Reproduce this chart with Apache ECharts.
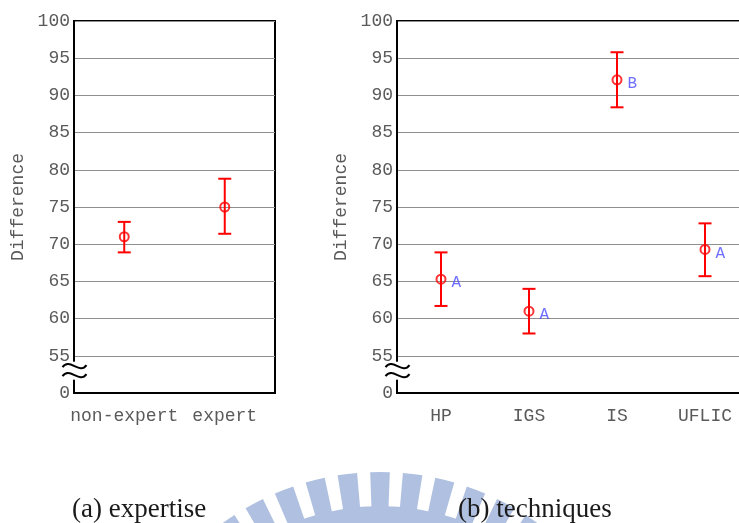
<!DOCTYPE html>
<html>
<head>
<meta charset="utf-8">
<script src="https://cdn.jsdelivr.net/npm/echarts@6/dist/echarts.min.js"></script>
<style>
  html, body { margin: 0; padding: 0; background: #ffffff; }
  #chart { width: 739px; height: 523px; }
</style>
</head>
<body>
<div id="chart"></div>
<script>
// ---- data -------------------------------------------------------------
const expertiseCategories = ['non-expert', 'expert'];
const expertiseMean = [71.0, 75.0];
const expertiseLow  = [68.9, 71.4];
const expertiseHigh = [73.0, 78.8];

const techniqueCategories = ['HP', 'IGS', 'IS', 'UFLIC'];
const techniqueMean = [65.3, 61.0, 92.1, 69.3];
const techniqueLow  = [61.7, 58.0, 88.4, 65.7];
const techniqueHigh = [68.9, 64.0, 95.8, 72.8];
const techniqueGroups = ['A', 'A', 'B', 'A'];

// value axis runs 50..100; its bottom tick stands for the broken-off zero
const yMin = 50, yMax = 100, yStep = 5;
const yBottomLabel = '0';
const yBreakValue = 53;
const yAxisTitle = 'Difference';
const captions = ['(a) expertise', '(b) techniques'];

// ---- layout & style ----------------------------------------------------
const MONO = '"Liberation Mono", "Courier New", monospace';
const SERIF = '"Liberation Serif", "DejaVu Serif", serif';
const RED = '#ff0000';
const LABEL_GRAY = '#5a5a5a';
const panels = [
  { left: 74,  top: 21, width: 201, height: 372 },
  { left: 397, top: 21, width: 352, height: 372 }
];

const chart = echarts.init(document.getElementById('chart'), null, { renderer: 'canvas' });

function renderErrorBar(params, api) {
  const idx = api.value(0);
  const lo = api.coord([idx, api.value(1)]);
  const hi = api.coord([idx, api.value(2)]);
  const half = 6.5;
  const style = { stroke: RED, lineWidth: 2, fill: null };
  return {
    type: 'group',
    children: [
      { type: 'line', shape: { x1: lo[0], y1: lo[1], x2: hi[0], y2: hi[1] }, style: style },
      { type: 'line', shape: { x1: lo[0] - half, y1: lo[1], x2: lo[0] + half, y2: lo[1] }, style: style },
      { type: 'line', shape: { x1: hi[0] - half, y1: hi[1], x2: hi[0] + half, y2: hi[1] }, style: style }
    ]
  };
}

function xAxisFor(i, cats) {
  return {
    type: 'category',
    gridIndex: i,
    data: cats,
    boundaryGap: true,
    axisTick: { show: false },
    axisLine: { show: true, lineStyle: { color: '#000', width: 2 } },
    axisLabel: { interval: 0, hideOverlap: false, fontFamily: MONO, fontSize: 18, color: LABEL_GRAY, margin: 14 },
    splitLine: { show: false }
  };
}

function yAxisFor(i) {
  return {
    type: 'value',
    gridIndex: i,
    min: yMin,
    max: yMax,
    interval: yStep,
    name: yAxisTitle,
    nameLocation: 'middle',
    nameGap: 47,
    nameTextStyle: { fontFamily: MONO, fontSize: 18, color: LABEL_GRAY },
    axisTick: { show: false },
    axisLine: { show: true, lineStyle: { color: '#000', width: 2 } },
    axisLabel: {
      fontFamily: MONO, fontSize: 18, color: LABEL_GRAY, margin: 4,
      formatter: v => (v === yMin ? yBottomLabel : String(v))
    },
    splitLine: { show: true, lineStyle: { color: '#8f8f8f', width: 1 } }
  };
}

function meanSeries(i, means, labels) {
  return {
    type: 'scatter',
    xAxisIndex: i,
    yAxisIndex: i,
    data: means,
    symbol: 'circle',
    symbolSize: 9,
    z: 4,
    itemStyle: { color: 'rgba(0,0,0,0)', borderColor: RED, borderWidth: 2 },
    label: labels ? {
      show: true,
      position: 'right',
      distance: 5,
      offset: [0, 4],
      formatter: p => labels[p.dataIndex],
      fontFamily: MONO,
      fontSize: 16,
      color: '#4b4bff'
    } : { show: false },
    emphasis: { disabled: true }
  };
}

function errorSeries(i, low, high) {
  return {
    type: 'custom',
    xAxisIndex: i,
    yAxisIndex: i,
    renderItem: renderErrorBar,
    encode: { x: 0, y: [1, 2] },
    data: low.map((v, k) => [k, v, high[k]]),
    z: 3,
    silent: true
  };
}

chart.setOption({
  animation: false,
  backgroundColor: '#ffffff',
  grid: panels.map(p => ({
    left: p.left, top: p.top, width: p.width, height: p.height,
    outerBoundsMode: 'none',
    containLabel: false,
    show: true, borderColor: '#000', borderWidth: 2, backgroundColor: 'transparent'
  })),
  xAxis: [xAxisFor(0, expertiseCategories), xAxisFor(1, techniqueCategories)],
  yAxis: [yAxisFor(0), yAxisFor(1)],
  series: [
    errorSeries(0, expertiseLow, expertiseHigh),
    meanSeries(0, expertiseMean, null),
    errorSeries(1, techniqueLow, techniqueHigh),
    meanSeries(1, techniqueMean, techniqueGroups)
  ]
});

// ---- decorations: axis-break marks, emblem, panel captions -------------
function breakMark(cx, cy) {
  const waves = [-4.5, 4.5].map(dy => ({
    type: 'bezierCurve',
    z: 10,
    shape: {
      x1: cx - 12, y1: cy + dy + 1,
      cpx1: cx - 5, cpy1: cy + dy - 9,
      cpx2: cx + 5, cpy2: cy + dy + 9,
      x2: cx + 12, y2: cy + dy - 1
    },
    style: { stroke: '#000', lineWidth: 2, fill: null }
  }));
  return [{
    type: 'rect', z: 9,
    shape: { x: cx - 4, y: cy - 9, width: 8, height: 18 },
    style: { fill: '#ffffff' }
  }].concat(waves);
}

function emblem() {
  const cx = 380, cy = 740;
  const color = '#b0c0e0';
  const deg = Math.PI / 180;
  const parts = [{
    type: 'sector', z: 1,
    shape: { cx: cx, cy: cy, r0: 190, r: 234, startAngle: -90 * deg - 36 * deg, endAngle: -90 * deg + 36 * deg },
    style: { fill: color }
  }];
  for (let k = -5; k <= 5; k++) {
    const a = -90 * deg + k * 7 * deg;
    parts.push({
      type: 'sector', z: 1,
      shape: { cx: cx, cy: cy, r0: 232, r: 268, startAngle: a - 2.1 * deg, endAngle: a + 2.1 * deg },
      style: { fill: color }
    });
  }
  return parts;
}

const graphics = [];
[0, 1].forEach(i => {
  const yPix = chart.convertToPixel({ yAxisIndex: i }, yBreakValue);
  graphics.push(...breakMark(panels[i].left + 0.5, yPix));
});
graphics.push(...emblem());
graphics.push(
  { type: 'text', z: 20, style: { text: captions[0], x: 72, y: 510, font: '27px ' + SERIF, fill: '#1a1a1a', align: 'left', verticalAlign: 'middle' } },
  { type: 'text', z: 20, style: { text: captions[1], x: 458, y: 510, font: '27px ' + SERIF, fill: '#1a1a1a', align: 'left', verticalAlign: 'middle' } }
);

chart.setOption({ graphic: graphics });
</script>
</body>
</html>
